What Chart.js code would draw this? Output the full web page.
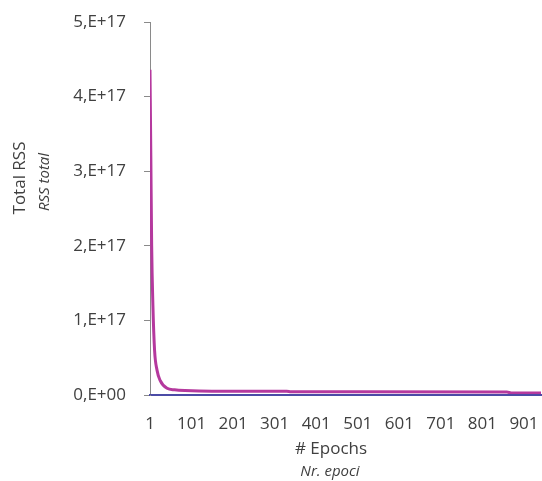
<!DOCTYPE html>
<html>
<head>
<meta charset="utf-8">
<script src="https://cdn.jsdelivr.net/npm/chart.js@4.4.1/dist/chart.umd.min.js"></script>
<style>
  html, body { margin: 0; padding: 0; background: #fff; }
  #wrap { position: relative; width: 542px; height: 481px; }
</style>
</head>
<body>
<div id="wrap"><canvas id="myChart" width="542" height="481"></canvas></div>
<script>
// values (RSS in units of 1E17)
const epochs = [1, 3, 5, 8, 12, 18, 25, 42, 60, 85, 150, 330, 340, 500, 860, 870, 942];
const rss = [4.36, 3.2, 2.0, 1.2, 0.6, 0.33, 0.2, 0.09, 0.07, 0.06, 0.05, 0.05, 0.045, 0.042, 0.04, 0.028, 0.026];
const baseline = [0, 0];
const baseEpochs = [1, 942];
const xTicks = [1, 101, 201, 301, 401, 501, 601, 701, 801, 901];
const yTicks = [0, 1, 2, 3, 4, 5];

const FONT = "'Open Sans', 'Noto Sans', sans-serif";

const titles = {
  id: "titles",
  afterDraw(chart) {
    const c = chart.ctx;
    c.save();
    c.fillStyle = "#404040";
    c.textAlign = "center";
    c.textBaseline = "middle";
    c.save();
    c.translate(20, 178);
    c.rotate(-Math.PI / 2);
    c.font = "17px " + FONT;
    c.fillText("Total RSS", 0, 0);
    c.restore();
    c.save();
    c.translate(45, 182);
    c.rotate(-Math.PI / 2);
    c.font = "italic 15px " + FONT;
    c.fillText("RSS total", 0, 0);
    c.restore();
    c.font = "17px " + FONT;
    c.fillText("# Epochs", 331, 449);
    c.font = "italic 15px " + FONT;
    c.fillText("Nr. epoci", 330, 472);
    c.restore();
  }
};

var ctx = document.getElementById("myChart");
var myChart = new Chart(ctx, {
  type: "line",
  data: {
    datasets: [
      {
        data: baseEpochs.map((e, i) => ({ x: e, y: baseline[i] })),
        borderColor: "#4b4ba6",
        borderWidth: 2,
        pointRadius: 0,
      },
      {
        data: epochs.map((e, i) => ({ x: e, y: rss[i] })),
        borderColor: "#b5399e",
        borderWidth: 3,
        pointRadius: 0,
        cubicInterpolationMode: "monotone",
      },
    ],
  },
  options: {
    responsive: false,
    animation: false,
    layout: { padding: { top: 22, right: 1, left: 0, bottom: 0 } },
    plugins: { legend: false, tooltip: { enabled: false } },
    scales: {
      x: {
        type: "linear",
        min: 1,
        max: 942,
        afterBuildTicks: (s) => { s.ticks = xTicks.map((v) => ({ value: v })); },
        afterFit: (s) => { s.height = 86; s.paddingRight = 0; s.paddingLeft = 0; },
        grid: { drawOnChartArea: false, drawTicks: false },
        border: { color: "#4b4ba6", width: 2 },
        ticks: { color: "#404040", font: { family: FONT, size: 17 }, padding: 19, maxRotation: 0, autoSkip: false },
      },
      y: {
        min: 0,
        max: 5,
        afterBuildTicks: (s) => { s.ticks = yTicks.map((v) => ({ value: v })); },
        afterFit: (s) => { s.width = 150; s.paddingTop = 0; s.paddingBottom = 0; },
        grid: { drawOnChartArea: false, drawTicks: true, tickLength: 6, color: "#8a8a8a" },
        border: { color: "#8a8a8a", width: 1 },
        ticks: {
          color: "#404040",
          font: { family: FONT, size: 17 },
          padding: 18,
          callback: (v) => (v === 0 ? "0,E+00" : v + ",E+17"),
        },
      },
    },
  },
  plugins: [titles],
});
</script>
</body>
</html>
